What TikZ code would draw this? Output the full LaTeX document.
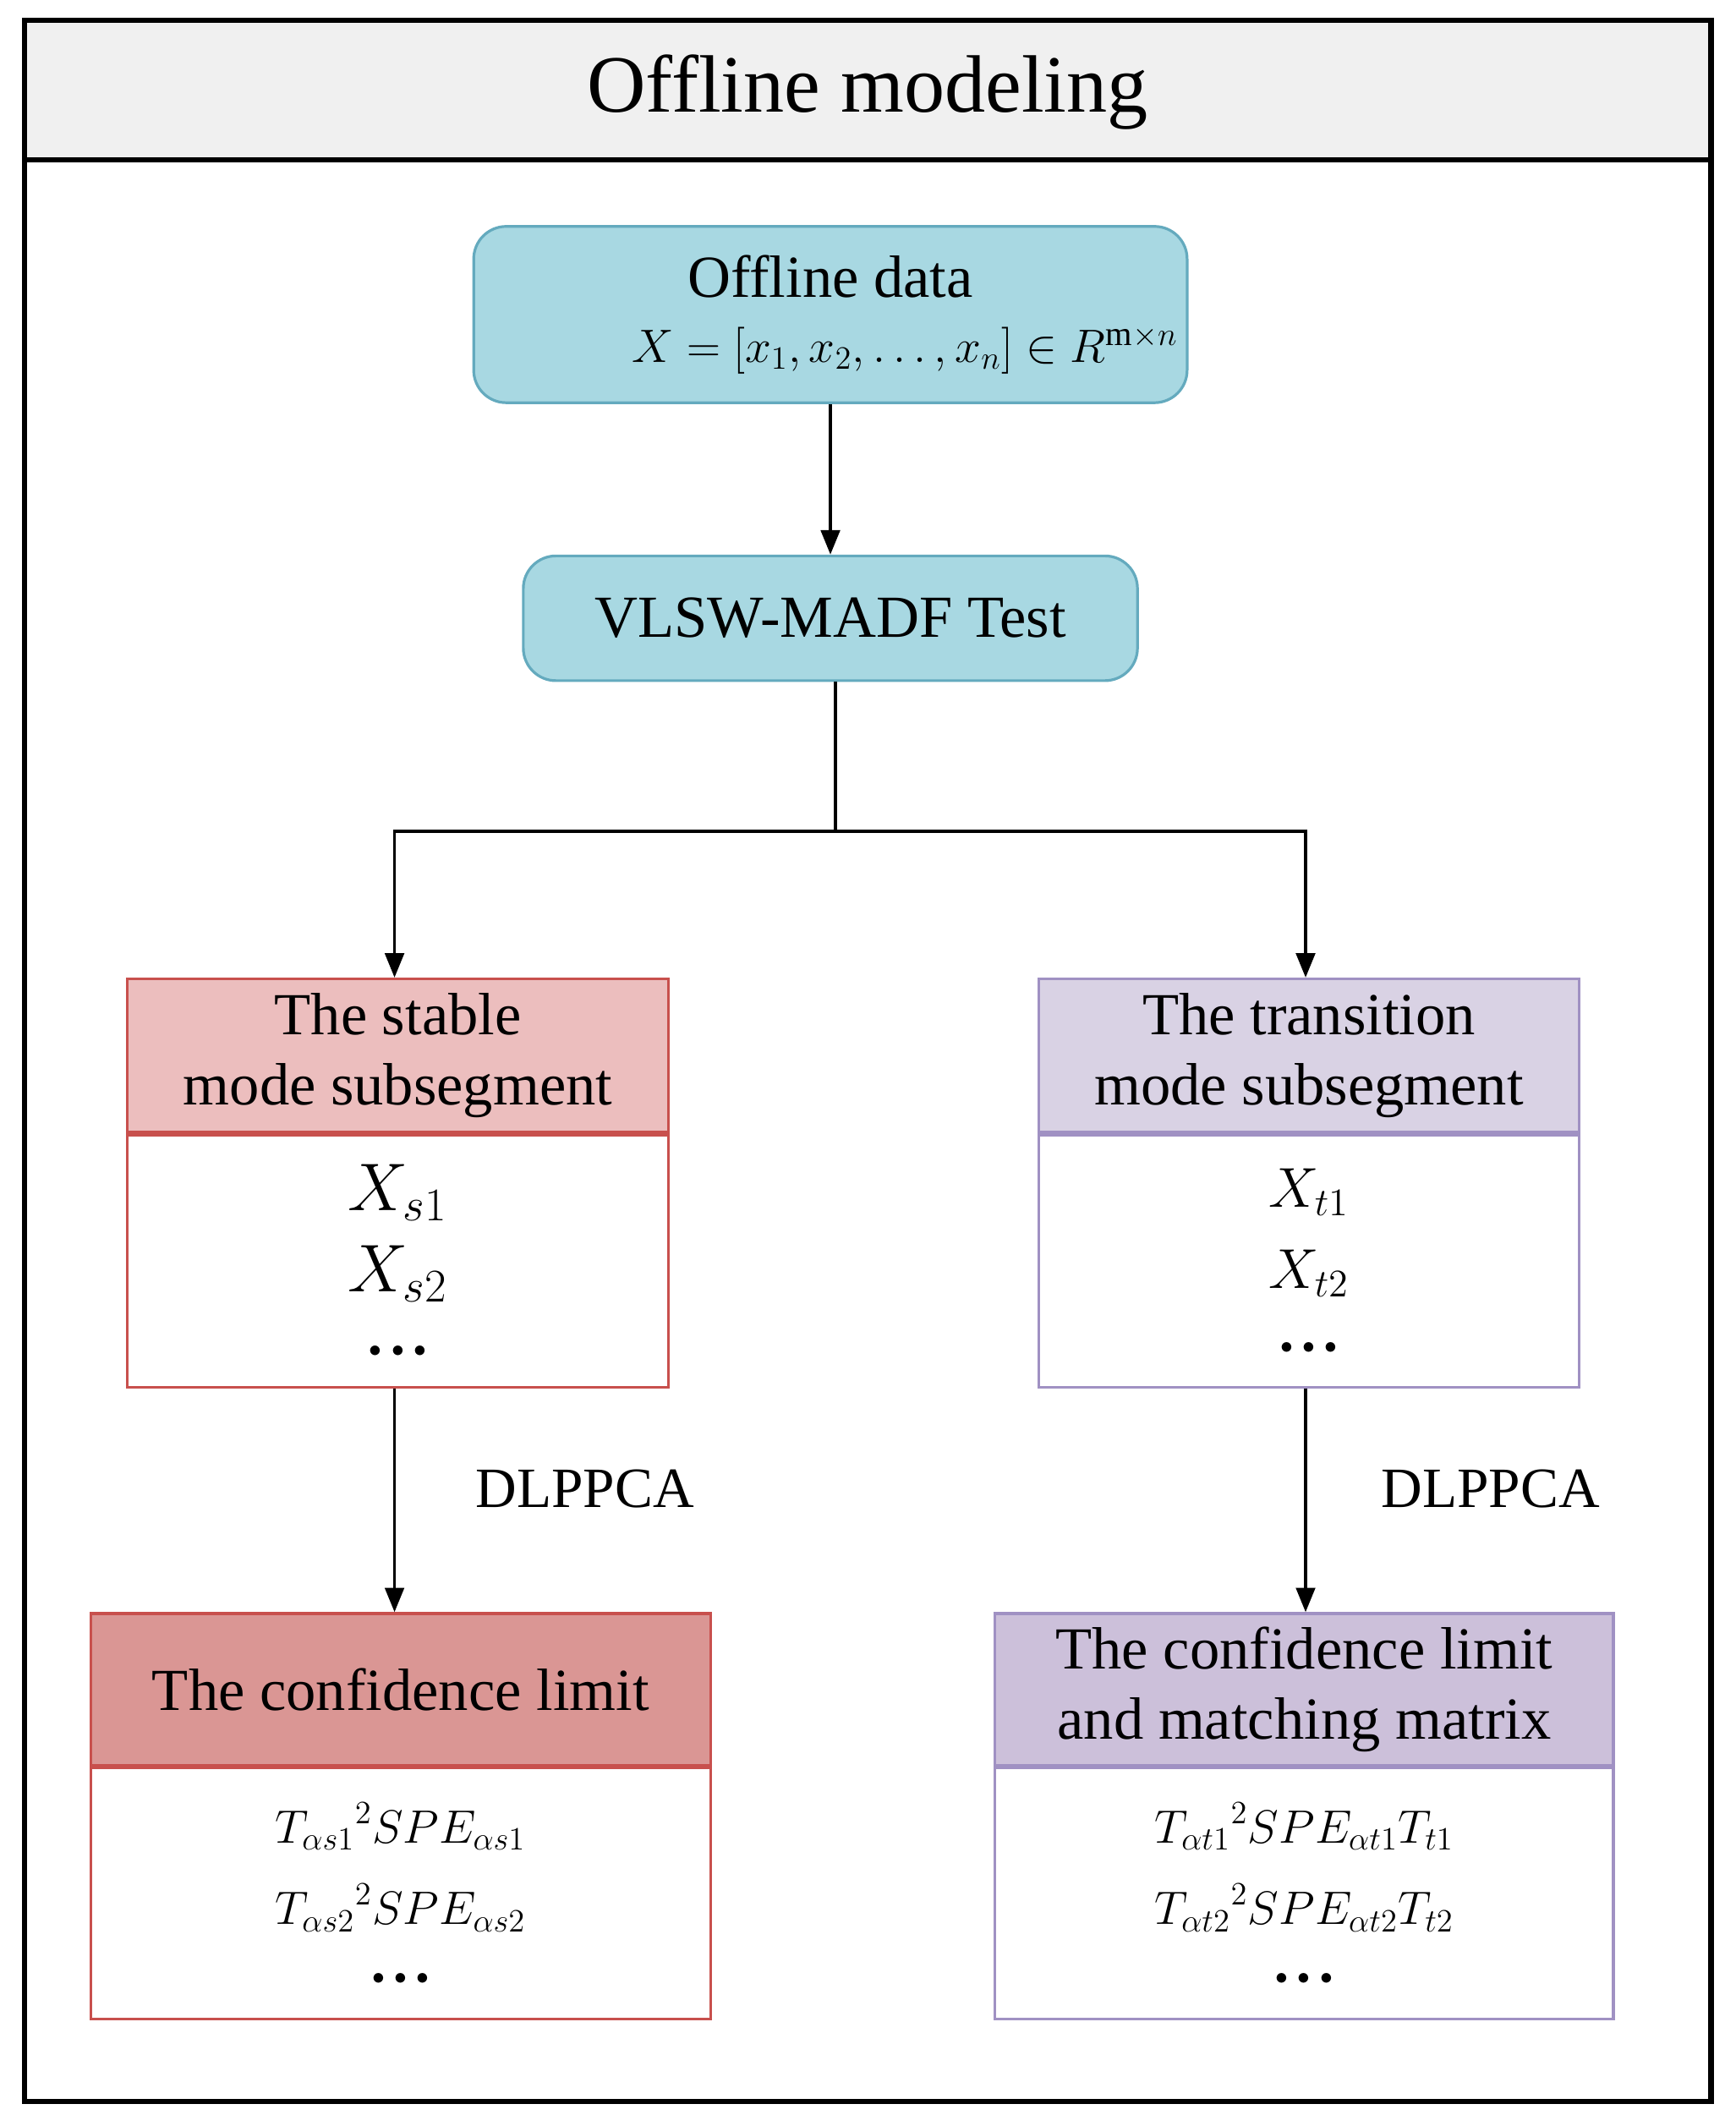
\documentclass[tikz,border=0pt]{standalone}
\usepackage{fontspec}
\setmainfont{Liberation Serif}
\usetikzlibrary{arrows.meta}
\definecolor{bluefill}{RGB}{168,216,226}
\definecolor{blueline}{RGB}{100,170,190}
\definecolor{redlight}{RGB}{236,190,190}
\definecolor{reddark}{RGB}{218,150,148}
\definecolor{redline}{RGB}{200,80,77}
\definecolor{violight}{RGB}{217,210,228}
\definecolor{viodark}{RGB}{204,192,218}
\definecolor{violine}{RGB}{160,145,195}
\newcommand{\hdots}{{\fontsize{9}{9}\selectfont$\bullet\,\bullet\,\bullet$}}
\tikzset{every picture/.style={line width=0.75pt}}
\tikzset{
  blue box/.style={draw=blueline, fill=bluefill, rounded corners=12pt, line width=1pt, align=center, font=\fontsize{22}{26}\selectfont},
  part/.style={draw, rectangle, line width=1pt, align=center, inner sep=0pt, font=\fontsize{22}{26}\selectfont},
  flow/.style={-{Triangle[length=9pt,width=7pt]}, line width=1.2pt}
}
\begin{document}
\begin{tikzpicture}[x=0.5pt,y=0.5pt,yscale=-1]
\useasboundingbox (0,0) rectangle (1280,1568);

%Frame and title
\draw [fill=white, line width=2pt] (18,15) rectangle (1262,1550);
\draw [fill=black!6, line width=2pt] (18,15) rectangle (1262,118);
\node (title) at (640,68) {\fontsize{30}{34}\selectfont Offline modeling};

%Top boxes
\node (data) [blue box, minimum width=260.5pt, minimum height=65pt] at (612.5,232)
  {Offline data\\[-2pt] \mbox{\hspace*{2.5em}\fontsize{18}{20}\selectfont$X=\bigl[x_1,x_2,\ldots,x_n\bigr]\in R^{\mathrm{m}\times n}$}};
\node (test) [blue box, minimum width=226.5pt, minimum height=46pt] at (612.5,456) {VLSW-MADF Test};
\draw [flow] (data) -- (test);

%Split
\coordinate (split) at (616,613);
\coordinate (left) at (291,613);
\coordinate (right) at (963,613);

%Stable branch
\node (stablehead) [part, draw=redline, fill=redlight, minimum width=199.5pt, minimum height=56.5pt] at (293.5,778.5)
  {The stable\\mode subsegment};
\node (stablebody) [part, draw=redline, fill=white, minimum width=199.5pt, minimum height=93pt, anchor=north, font=\fontsize{24}{30}\selectfont] at (stablehead.south)
  {$X_{s1}$\\$X_{s2}$\\[-6pt]\hdots};
\node (stablelimit) [part, draw=redline, fill=reddark, minimum width=228.5pt, minimum height=56pt] at (295.5,1246)
  {The confidence limit};
\node (stablestat) [part, draw=redline, fill=white, minimum width=228.5pt, minimum height=92.5pt, anchor=north, font=\fontsize{18}{30}\selectfont] at (stablelimit.south)
  {${T_{\alpha s1}}^2 SPE_{\alpha s1}$\\${T_{\alpha s2}}^2 SPE_{\alpha s2}$\\[-8pt]\hdots};

%Transition branch
\node (transhead) [part, draw=violine, fill=violight, minimum width=199.5pt, minimum height=56.5pt] at (965.5,778.5)
  {The transition\\mode subsegment};
\node (transbody) [part, draw=violine, fill=white, minimum width=199.5pt, minimum height=93pt, anchor=north, font=\fontsize{22}{30}\selectfont] at (transhead.south)
  {$X_{t1}$\\$X_{t2}$\\[-6pt]\hdots};
\node (translimit) [part, draw=violine, fill=viodark, minimum width=228pt, minimum height=56pt] at (962,1246)
  {The confidence limit\\and matching matrix};
\node (transstat) [part, draw=violine, fill=white, minimum width=228pt, minimum height=92.5pt, anchor=north, font=\fontsize{18}{30}\selectfont] at (translimit.south)
  {${T_{\alpha t1}}^2 SPE_{\alpha t1} T_{t1}$\\${T_{\alpha t2}}^2 SPE_{\alpha t2} T_{t2}$\\[-8pt]\hdots};

%Connectors
\draw [line width=1.2pt] (test.south -| split) -- (split);
\draw [flow] (split) -- (left) -- (left |- stablehead.north);
\draw [flow] (split) -- (right) -- (right |- transhead.north);
\draw [flow] (stablebody.south -| left) -- (left |- stablelimit.north)
  node [pos=0.45, right=26pt, font=\fontsize{21}{24}\selectfont] (dlleft) {DLPPCA};
\draw [flow] (transbody.south -| right) -- (right |- translimit.north)
  node [pos=0.45, right=24pt, font=\fontsize{21}{24}\selectfont] (dlright) {DLPPCA};
\end{tikzpicture}
\end{document}
